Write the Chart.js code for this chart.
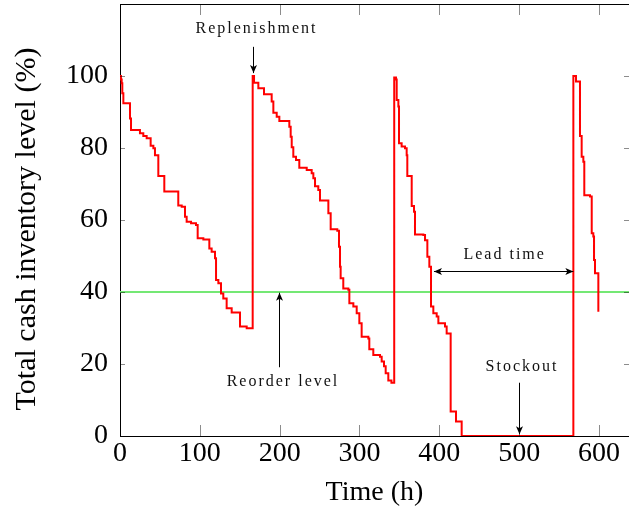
<!DOCTYPE html>
<html>
<head>
<meta charset="utf-8">
<script src="https://cdn.jsdelivr.net/npm/chart.js@4.4.1/dist/chart.umd.min.js"></script>
<style>
html,body{margin:0;padding:0;background:#fff;}
#wrap{width:629px;height:513px;}
</style>
</head>
<body>
<div id="wrap"><canvas id="c" width="629" height="513"></canvas></div>
<script>
// ---- data (time in hours, level in %) ----
const cycle1Time  = [0, 1.2, 2.1, 2.9, 4.2, 12.5, 13.8, 25, 29.2, 33.4, 38.4, 41.8, 43.8, 48, 55.5, 73, 77.3, 81.4, 83.5, 89, 95.2, 97.3, 104.4, 111.9, 114.8, 119, 120.3, 123.2, 126.5, 129.4, 133.6, 139.9, 150.3, 158.7];
const cycle1Level = [100, 99, 98, 95.2, 92.4, 88.2, 85, 84.1, 83.3, 82.7, 80.6, 79.9, 78, 72.2, 67.9, 64, 63.7, 60.9, 59.5, 59.1, 58.6, 54.9, 54.6, 52.1, 51.2, 49.4, 43.3, 42.4, 39.6, 38.2, 35.5, 34.3, 30.4, 29.9];

const cycle2Time  = [166.2, 167.9, 173.3, 180.4, 190, 192.1, 196.3, 199.6, 212.1, 213.8, 215.1, 217.1, 220.5, 224.6, 233.9, 240.1, 242.2, 244.3, 248.4, 250.5, 261, 263.9, 272.2, 274.3, 275.6, 276.4, 279.7, 286, 287.3, 292.3, 296.5, 299.8, 302.7, 311.1, 312.3, 317.3, 325.7, 327.8, 330.7, 332.8, 336.1, 340];
const cycle2Level = [100, 98.1, 96.6, 94.9, 92.9, 89.8, 88.7, 87.5, 85.9, 83.1, 80.2, 77.6, 76.7, 74.5, 73.9, 73, 71.6, 69.4, 68.3, 65.4, 61.9, 57.4, 57.0, 52.6, 47, 43.8, 41, 40.6, 36.9, 36, 34.1, 31.3, 27.6, 27.1, 24.1, 22.5, 22, 20.7, 19.4, 17.4, 15.4, 14.8];

const cycle3Time  = [343.5, 345.7, 346.6, 348.7, 349.5, 352.8, 357, 359.1, 359.9, 365.4, 368.3, 369.5, 380, 382.1, 385, 387.5, 389.6, 392.5, 396.7, 398.8, 407.1, 409.2, 414.2, 420.9, 428];
const cycle3Level = [99.6, 99, 93.3, 91.5, 81.3, 80.4, 79.9, 78, 72.2, 63.9, 62.3, 56, 55.8, 54.4, 49.8, 47, 36, 34.1, 33.2, 31.3, 30.4, 28.5, 6.8, 4, 0];

const cycle4Time  = [567.9, 571.2, 576.2, 578.3, 580.4, 581.6, 588.8, 590.9, 592.9, 593.8, 595, 599.2];
const cycle4Level = [100, 98.5, 83.3, 77.6, 76.2, 66.9, 66.5, 56.3, 55.4, 48.9, 45.2, 34.5];

const reorderLevel = 40;
const xTicks = [0, 100, 200, 300, 400, 500, 600];
const yTicks = [0, 20, 40, 60, 80, 100];
const xRange = [0, 637.6];
const yRange = [0, 120];
const xTitle = 'Time (h)';
const yTitle = 'Total cash inventory level (%)';

// annotation anchors in data units
const noteReplenish = {text: 'Replenishment', x: 169.7, y: 113, arrowX: 166.3, from: 108.1, to: 100.8};
const noteReorder   = {text: 'Reorder level', x: 202.9, y: 15, arrowX: 199.2, from: 19.1, to: 39.8};
const noteLead      = {text: 'Lead time', x: 480.6, y: 50.3, arrowY: 45.9, from: 393.3, to: 567.9};
const noteStockout  = {text: 'Stockout', x: 502.4, y: 19.2, arrowX: 499.5, from: 14.8, to: 0.5};

// ---- build ----
const toPts = (ts, ls) => ts.map((t, i) => ({x: t, y: ls[i]}));
const inventory = [].concat(
  toPts(cycle1Time, cycle1Level),
  toPts(cycle2Time, cycle2Level),
  toPts(cycle3Time, cycle3Level),
  toPts(cycle4Time, cycle4Level)
);

const SERIF = '"Liberation Serif", "Times New Roman", serif';

function arrowHead(ctx, x1, y1, x2, y2) {
  const ang = Math.atan2(y2 - y1, x2 - x1);
  const L = 8, W = 3.5;
  ctx.beginPath();
  ctx.moveTo(x2, y2);
  ctx.lineTo(x2 - L * Math.cos(ang) + W * Math.sin(ang), y2 - L * Math.sin(ang) - W * Math.cos(ang));
  ctx.lineTo(x2 - L * 0.75 * Math.cos(ang), y2 - L * 0.75 * Math.sin(ang));
  ctx.lineTo(x2 - L * Math.cos(ang) - W * Math.sin(ang), y2 - L * Math.sin(ang) + W * Math.cos(ang));
  ctx.closePath();
  ctx.fill();
}
function arrow(ctx, x1, y1, x2, y2, both) {
  ctx.beginPath();
  ctx.moveTo(x1, y1);
  ctx.lineTo(x2, y2);
  ctx.stroke();
  arrowHead(ctx, x1, y1, x2, y2);
  if (both) arrowHead(ctx, x2, y2, x1, y1);
}

const decor = {
  id: 'decor',
  afterDraw(chart) {
    const {ctx, chartArea: a, scales: {x, y}} = chart;
    ctx.save();
    // top frame line
    ctx.strokeStyle = '#000';
    ctx.lineWidth = 1;
    ctx.beginPath();
    ctx.moveTo(a.left, a.top + 0.5);
    ctx.lineTo(a.right, a.top + 0.5);
    ctx.stroke();
    // inward tick marks
    ctx.strokeStyle = 'rgba(0,0,0,0.45)';
    ctx.lineWidth = 1;
    ctx.beginPath();
    xTicks.forEach(v => {
      if (v === xRange[0]) return;
      const px = Math.round(x.getPixelForValue(v)) + 0.5;
      ctx.moveTo(px, a.bottom); ctx.lineTo(px, a.bottom - 11);
      ctx.moveTo(px, a.top); ctx.lineTo(px, a.top + 11);
    });
    yTicks.forEach(v => {
      if (v === yRange[0]) return;
      const py = Math.round(y.getPixelForValue(v)) + 0.5;
      ctx.moveTo(a.left, py); ctx.lineTo(a.left + 5, py);
      ctx.moveTo(a.right, py); ctx.lineTo(a.right - 5, py);
    });
    ctx.stroke();

    // y axis title
    ctx.save();
    ctx.fillStyle = '#000';
    ctx.font = '30px ' + SERIF;
    ctx.textAlign = 'center';
    ctx.textBaseline = 'alphabetic';
    ctx.translate(35, (a.top + a.bottom) / 2 + 9);
    ctx.rotate(-Math.PI / 2);
    ctx.fillText(yTitle, 0, 0);
    ctx.restore();

    // annotations
    ctx.fillStyle = '#111';
    ctx.strokeStyle = '#000';
    ctx.lineWidth = 1;
    ctx.font = '16px ' + SERIF;
    try { ctx.letterSpacing = '2px'; } catch (e) {}
    ctx.textAlign = 'center';
    ctx.textBaseline = 'middle';
    [noteReplenish, noteReorder, noteStockout, noteLead].forEach(n => {
      ctx.fillText(n.text, x.getPixelForValue(n.x) + 1, y.getPixelForValue(n.y));
    });
    ctx.fillStyle = '#000';
    [noteReplenish, noteReorder, noteStockout].forEach(n => {
      const px = Math.round(x.getPixelForValue(n.arrowX)) + 0.5;
      arrow(ctx, px, y.getPixelForValue(n.from), px, y.getPixelForValue(n.to), false);
    });
    const ly = Math.round(y.getPixelForValue(noteLead.arrowY)) + 0.5;
    arrow(ctx, x.getPixelForValue(noteLead.from), ly, x.getPixelForValue(noteLead.to), ly, true);
    ctx.restore();
  }
};

new Chart(document.getElementById('c'), {
  type: 'line',
  data: {
    datasets: [
      {
        label: 'Cash inventory',
        data: inventory,
        borderColor: '#ff0000',
        borderWidth: 2,
        stepped: true,
        pointRadius: 0,
        fill: false,
        order: 0
      },
      {
        label: 'Reorder level',
        data: [{x: xRange[0], y: reorderLevel}, {x: xRange[1], y: reorderLevel}],
        borderColor: '#74e874',
        borderWidth: 2,
        pointRadius: 0,
        fill: false,
        order: 1
      }
    ]
  },
  options: {
    responsive: false,
    animation: false,
    devicePixelRatio: 1,
    layout: {padding: {top: 4, right: 0, left: 0, bottom: 0}},
    plugins: {legend: {display: false}, tooltip: {enabled: false}},
    scales: {
      x: {
        type: 'linear',
        min: xRange[0],
        max: xRange[1],
        afterBuildTicks: s => { s.ticks = xTicks.map(v => ({value: v})); },
        afterFit: s => { s.height = 77; s.paddingLeft = 0; s.paddingRight = 0; s.paddingTop = 0; s.paddingBottom = 0; },
        grid: {display: false, drawTicks: false},
        border: {display: true, color: '#000', width: 1},
        ticks: {color: '#000', font: {family: SERIF, size: 28}, padding: 1, maxRotation: 0},
        title: {display: true, text: xTitle, color: '#000', font: {family: SERIF, size: 28}, padding: {top: 0, bottom: 4}}
      },
      y: {
        type: 'linear',
        min: yRange[0],
        max: yRange[1],
        afterBuildTicks: s => { s.ticks = yTicks.map(v => ({value: v})); },
        afterFit: s => { s.width = 120; s.paddingTop = 0; s.paddingBottom = 0; s.paddingLeft = 0; s.paddingRight = 0; },
        grid: {display: false, drawTicks: false},
        border: {display: true, color: '#000', width: 1},
        ticks: {color: '#000', font: {family: SERIF, size: 28}, padding: 12},
        title: {display: false, text: yTitle}
      }
    }
  },
  plugins: [decor]
});
</script>
</body>
</html>
